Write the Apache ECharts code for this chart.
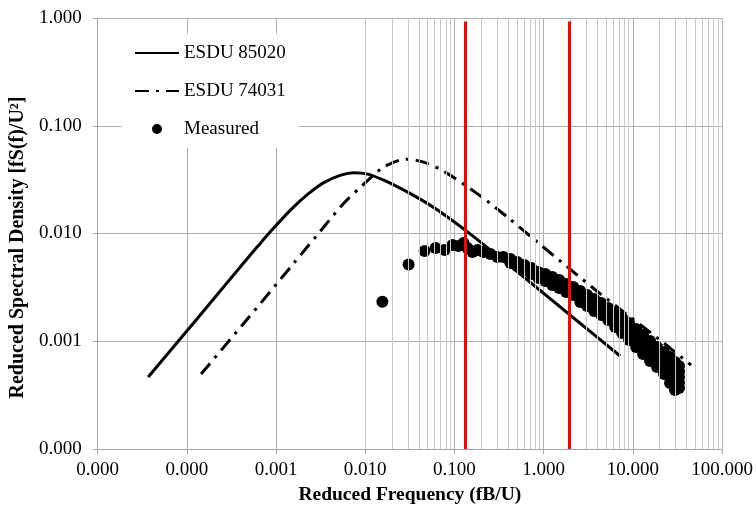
<!DOCTYPE html>
<html>
<head>
<meta charset="utf-8">
<script src="https://cdn.jsdelivr.net/npm/echarts@6/dist/echarts.min.js"></script>
<style>
  html, body { margin: 0; padding: 0; background: #fff; }
  #main { width: 756px; height: 511px; }
</style>
</head>
<body>
<div id="main"></div>
<script>
// ESDU 85020 (solid)
var esdu85020Freq = [3.69e-5, 8.0e-5, 1.87e-4, 4.05e-4, 6.27e-4, 8.77e-4, 1.468e-3, 2.274e-3, 3.434e-3, 5.32e-3, 7.44e-3, 0.01067, 0.0161, 0.02494, 0.04176, 0.0647, 0.151, 0.658, 2.26, 7.21];
var esdu85020Psd  = [4.66e-4, 1.00e-3, 2.31e-3, 4.984e-3, 7.64e-3, 0.01053, 0.01667, 0.0232, 0.02967, 0.0348, 0.0367, 0.03556, 0.03129, 0.02621, 0.02072, 0.01649, 0.00986, 0.0037, 0.0016, 7.3e-4];

// ESDU 74031 (dash-dot)
var esdu74031Freq = [1.445e-4, 4.38e-4, 1.585e-3, 3.02e-3, 5.75e-3, 9.38e-3, 0.0161, 0.0291, 0.0451, 0.0755, 0.1766, 0.393, 0.851, 4.09, 20.2, 44.9];
var esdu74031Psd  = [4.97e-4, 1.476e-3, 5.31e-3, 0.0101, 0.0191, 0.0281, 0.0413, 0.0490, 0.0460, 0.0379, 0.0237, 0.0142, 0.00832, 0.00286, 0.001026, 6.01e-4];

// Measured
var measuredFreq = [
  0.01557, 0.03066, 0.04629, 0.06145, 0.0775, 0.09521, 0.1111, 0.1264, 0.1401, 0.1594, 0.1813, 0.2116, 0.2534, 0.3034,
  0.354, 0.4241, 0.4241, 0.5078, 0.5078, 0.6082, 0.6082, 0.7284, 0.7284, 0.8724, 0.8724, 1.045, 1.045, 1.251, 1.251,
  1.498, 1.498, 1.498, 1.794, 1.794, 2.149, 2.149, 2.149, 2.573, 2.573, 2.573, 3.082, 3.082, 3.082,
  3.691, 3.691, 3.691, 4.42, 4.42, 4.42, 5.294, 5.294, 5.294, 6.339, 6.339, 6.339, 7.592, 7.592, 7.592,
  9.092, 9.092, 9.092, 10.89, 10.89, 10.89, 13.04, 13.04, 13.04, 15.61, 15.61, 15.61, 18.7, 18.7, 18.7,
  22.39, 22.39, 22.39, 22.39, 22.39, 26.14, 26.14, 26.14, 26.14, 26.14,
  29.73, 29.73, 29.73, 29.73, 29.73, 32.96, 32.96, 32.96, 32.96, 32.96
];
var measuredPsd = [
  0.002325, 0.005146, 0.006866, 0.00732, 0.007015, 0.007805, 0.00764, 0.008145, 0.00732, 0.006723, 0.007015, 0.006723, 0.006441, 0.00604,
  0.00604, 0.005787, 0.005313, 0.005428, 0.004984, 0.005092, 0.004576, 0.004775, 0.004202, 0.004385, 0.003857, 0.004202, 0.003617, 0.00394, 0.003321,
  0.003695, 0.003393, 0.003115, 0.003393, 0.00286, 0.003183, 0.002922, 0.002683, 0.002922, 0.002626, 0.00231, 0.002683, 0.002411, 0.002121,
  0.002463, 0.002167, 0.001906, 0.002261, 0.001989, 0.00175, 0.002032, 0.001788, 0.001573, 0.001826, 0.001573, 0.001354, 0.001642, 0.001413, 0.001191,
  0.001475, 0.001243, 0.001026, 0.001298, 0.001071, 0.000884, 0.001141, 0.000942, 0.000761, 0.001004, 0.000811, 0.000655, 0.000884, 0.000714, 0.000576,
  0.000794, 0.000706, 0.000628, 0.000558, 0.000496, 0.000714, 0.000621, 0.000541, 0.0004705, 0.00041,
  0.000641, 0.000552, 0.000476, 0.00041, 0.000353, 0.000589, 0.0005235, 0.000466, 0.000414, 0.000368
];

// red vertical markers
var markerFreq = [0.1316, 1.96];

var serif = '"Liberation Serif", "Times New Roman", serif';

function zip(a, b) {
  return a.map(function (v, i) { return [v, b[i]]; });
}

// minor vertical gridlines at 2..9 of each decade
var minorLines = [];
for (var e = -5; e < 2; e++) {
  for (var m = 2; m < 10; m++) {
    minorLines.push({ xAxis: m * Math.pow(10, e) });
  }
}

var chart = echarts.init(document.getElementById('main'));

var option = {
  animation: false,
  backgroundColor: '#fff',
  grid: { left: 96, right: 34, top: 18, bottom: 62 },
  legend: {
    data: [
      { name: 'ESDU 85020', itemStyle: { opacity: 0 } },
      { name: 'ESDU 74031', itemStyle: { opacity: 0 } },
      { name: 'Measured' }
    ],
    orient: 'vertical',
    left: 122,
    top: 34,
    backgroundColor: '#fff',
    padding: [9, 13, 9, 12],
    itemWidth: 44,
    itemHeight: 10,
    itemGap: 18,
    textStyle: { fontFamily: serif, fontSize: 19, color: '#000', lineHeight: 20 }
  },
  xAxis: {
    type: 'log',
    logBase: 10,
    min: 1e-5,
    max: 100,
    interval: 1,
    name: 'Reduced Frequency (fB/U)',
    nameLocation: 'middle',
    nameGap: 31,
    nameTextStyle: { fontFamily: serif, fontSize: 19.5, fontWeight: 'bold', color: '#000' },
    axisLine: { lineStyle: { color: '#a6a6a6', width: 1 } },
    axisTick: { show: true, length: 5, lineStyle: { color: '#a6a6a6' } },
    axisLabel: {
      fontFamily: serif, fontSize: 19, color: '#000', margin: 12,
      showMinLabel: true, showMaxLabel: true,
      formatter: function (v) { return v.toFixed(3); }
    },
    splitLine: { show: true, lineStyle: { color: '#b0b0b0', width: 1 } }
  },
  yAxis: {
    type: 'log',
    logBase: 10,
    min: 1e-4,
    max: 1,
    interval: 1,
    name: 'Reduced Spectral Density [fS(f)/U²]',
    nameLocation: 'middle',
    nameRotate: 90,
    nameGap: 55,
    nameTextStyle: { fontFamily: serif, fontSize: 20, fontWeight: 'bold', color: '#000', padding: [0, 28, 0, 0] },
    axisLine: { show: true, lineStyle: { color: '#a6a6a6', width: 1 } },
    axisTick: { show: true, length: 5, lineStyle: { color: '#a6a6a6' } },
    axisLabel: {
      fontFamily: serif, fontSize: 19, color: '#000', margin: 16,
      showMinLabel: true, showMaxLabel: true,
      formatter: function (v) { return v.toFixed(3); }
    },
    splitLine: { show: true, lineStyle: { color: '#b0b0b0', width: 1 } }
  },
  series: [
    {
      name: 'minor',
      type: 'line',
      data: [],
      silent: true,
      z: 0,
      markLine: {
        silent: true,
        symbol: 'none',
        label: { show: false },
        lineStyle: { color: '#c8c8c8', width: 1, type: 'solid' },
        data: minorLines
      }
    },
    {
      name: 'ESDU 85020',
      type: 'line',
      data: zip(esdu85020Freq, esdu85020Psd),
      symbol: 'none',
      smooth: 0.3,
      z: 2,
      color: '#000',
      lineStyle: { color: '#000', width: 3 }
    },
    {
      name: 'ESDU 74031',
      type: 'line',
      data: zip(esdu74031Freq, esdu74031Psd),
      symbol: 'none',
      smooth: 0.3,
      z: 2,
      color: '#000',
      lineStyle: { color: '#000', width: 3, type: [14, 7, 3, 7] }
    },
    {
      name: 'Measured',
      type: 'scatter',
      data: zip(measuredFreq, measuredPsd),
      symbol: 'circle',
      symbolSize: 12,
      z: 3,
      itemStyle: { color: '#000', opacity: 1 }
    },
    {
      name: 'markers',
      type: 'line',
      data: [],
      silent: true,
      z: 5,
      markLine: {
        silent: true,
        symbol: 'none',
        label: { show: false },
        lineStyle: { color: '#ff0000', width: 3, type: 'solid' },
        data: markerFreq.map(function (f) {
          return [{ coord: [f, 0.93] }, { coord: [f, 1e-4] }];
        })
      }
    }
  ]
};

chart.setOption(option);
</script>
</body>
</html>
